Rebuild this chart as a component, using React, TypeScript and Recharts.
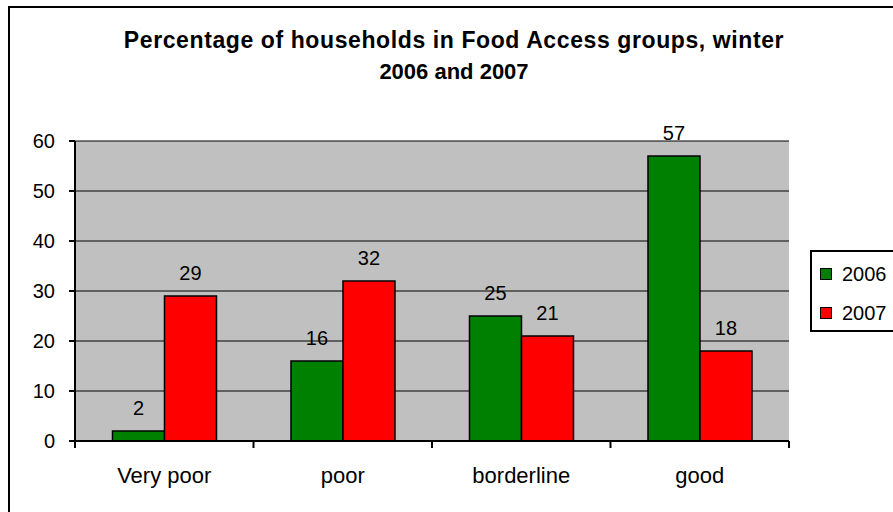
import { BarChart, Bar, XAxis, YAxis, CartesianGrid, LabelList } from 'recharts';

// Food access groups, winter 2006 vs 2007 (% of households)
const categories = ['Very poor', 'poor', 'borderline', 'good'];
const values2006 = [2, 16, 25, 57];
const values2007 = [29, 32, 21, 18];
const yTicks = [0, 10, 20, 30, 40, 50, 60];

const series = [
  { key: 'y2006', name: '2006', color: '#008000' },
  { key: 'y2007', name: '2007', color: '#ff0000' },
];

const data = categories.map((cat, i) => ({
  cat,
  y2006: values2006[i],
  y2007: values2007[i],
}));

const FONT = '"Liberation Sans", Arial, sans-serif';
const PLOT_W = 714;

function CategoryTick(props: any) {
  const { x, y, payload, index } = props;
  const half = PLOT_W / categories.length / 2;
  return (
    <g>
      <line x1={x - half} x2={x - half} y1={y} y2={y + 7} stroke="#000" strokeWidth={2} />
      {index === categories.length - 1 && (
        <line x1={x + half} x2={x + half} y1={y} y2={y + 7} stroke="#000" strokeWidth={2} />
      )}
      <text x={x} y={y + 42} textAnchor="middle" fontSize={22} fill="#000" fontFamily={FONT}>
        {payload.value}
      </text>
    </g>
  );
}

export default function App() {
  return (
    <div
      style={{
        position: 'absolute',
        left: 0,
        top: 0,
        width: 893,
        height: 512,
        overflow: 'hidden',
        background: '#fff',
        fontFamily: FONT,
      }}
    >
      {/* chart border, cropped on the right and bottom */}
      <div
        style={{
          position: 'absolute',
          left: 8,
          top: 6,
          width: 1000,
          height: 1000,
          border: '2px solid #000',
        }}
      />
      <div
        style={{
          position: 'absolute',
          left: 0,
          width: 908,
          top: 25,
          textAlign: 'center',
          fontWeight: 'bold',
          fontSize: 23,
          lineHeight: '31px',
          whiteSpace: 'nowrap',
        }}
      >
        <div style={{ letterSpacing: 0.6 }}>Percentage of households in Food Access groups, winter</div>
        <div style={{ fontSize: 22 }}>2006 and 2007</div>
      </div>

      <div style={{ position: 'absolute', left: 0, top: 0 }}>
        <BarChart
          width={893}
          height={512}
          data={data}
          margin={{ top: 141, right: 104, bottom: 21, left: 15 }}
          barCategoryGap="21%"
          barGap={0}
        >
          <CartesianGrid vertical={false} fill="#c0c0c0" stroke="#000" strokeOpacity={1} />
          <XAxis
            dataKey="cat"
            height={50}
            interval={0}
            tickLine={false}
            tickSize={0}
            tickMargin={0}
            axisLine={{ stroke: '#000', strokeWidth: 2 }}
            tick={<CategoryTick />}
          />
          <XAxis
            xAxisId="top"
            orientation="top"
            height={0}
            tick={false}
            tickLine={false}
            axisLine={{ stroke: '#808080', strokeWidth: 2 }}
          />
          <YAxis
            width={60}
            domain={[0, 60]}
            ticks={yTicks}
            interval={0}
            tickSize={6}
            tickMargin={14}
            tickLine={{ stroke: '#000', strokeWidth: 2 }}
            axisLine={{ stroke: '#000', strokeWidth: 2 }}
            tick={{ fill: '#000', fontSize: 20, fontFamily: FONT }}
          />
          <YAxis
            yAxisId="right"
            orientation="right"
            width={0}
            tick={false}
            tickLine={false}
            axisLine={{ stroke: '#808080', strokeWidth: 2 }}
          />
          {series.map((s) => (
            <Bar
              key={s.key}
              dataKey={s.key}
              name={s.name}
              fill={s.color}
              stroke="#000"
              strokeWidth={1.5}
              isAnimationActive={false}
            >
              <LabelList
                dataKey={s.key}
                position="top"
                offset={16}
                fill="#000"
                fontSize={20}
                fontFamily={FONT}
              />
            </Bar>
          ))}
        </BarChart>
      </div>

      {/* legend */}
      <div
        style={{
          position: 'absolute',
          left: 810,
          top: 250,
          width: 120,
          height: 78,
          border: '2px solid #000',
          background: '#fff',
        }}
      >
        {series.map((s, i) => (
          <div
            key={s.key}
            style={{
              position: 'absolute',
              left: 8,
              top: 10 + i * 39,
              height: 24,
              display: 'flex',
              alignItems: 'center',
              fontSize: 20,
            }}
          >
            <span
              style={{
                display: 'inline-block',
                width: 10,
                height: 10,
                background: s.color,
                border: '1.5px solid #000',
                marginRight: 10,
              }}
            />
            <span>{s.name}</span>
          </div>
        ))}
      </div>
    </div>
  );
}
